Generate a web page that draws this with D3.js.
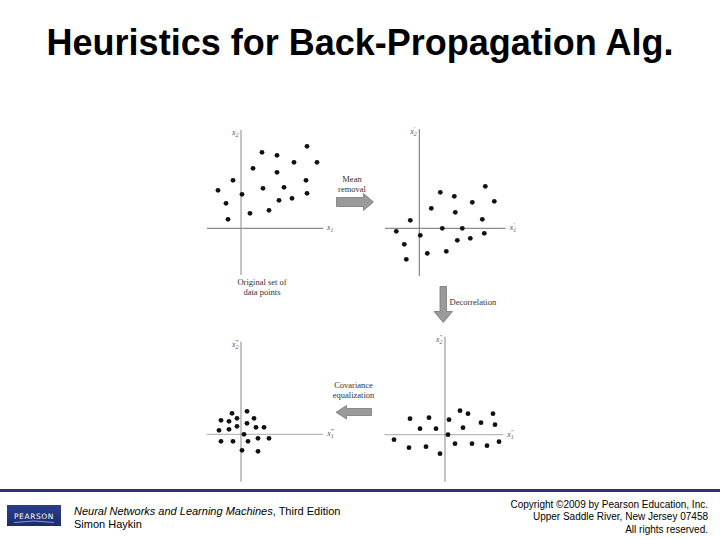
<!DOCTYPE html>
<html><head><meta charset="utf-8">
<script src="https://cdn.jsdelivr.net/npm/d3@7"></script>
<style>
html,body{margin:0;padding:0;background:#fff;}
svg{display:block;}
</style></head>
<body>
<svg id="c" width="720" height="540"></svg>
<script>
// ---- data ----
const titleText = "Heuristics for Back-Propagation Alg.";
const original = [[6.6,8.2],[2.1,7.6],[3.6,7.3],[5.3,6.6],[7.6,6.6],[1.2,6.0],[3.6,5.6],[-0.8,4.8],[6.5,4.8],[-2.3,3.8],[2.2,4.0],[4.3,4.1],[0.1,3.4],[6.6,3.5],[-1.5,2.5],[3.8,2.8],[5.1,3.0],[0.9,1.5],[2.8,1.8],[-1.3,0.9]];
const meanRemoved = [[6.6,4.2],[2.1,3.6],[3.5,3.2],[5.3,2.6],[7.5,2.7],[1.2,2.0],[3.6,1.6],[-0.9,0.8],[6.3,0.9],[-2.3,-0.3],[2.3,0.0],[4.3,0.0],[0.1,-0.7],[6.5,-0.5],[-1.5,-1.6],[3.8,-1.2],[5.1,-1.0],[0.8,-2.5],[2.7,-2.3],[-1.3,-3.1]];
const decorrelated = [[1.5,2.4],[-1.6,1.7],[-3.5,1.6],[2.3,2.1],[4.8,2.1],[0.4,1.5],[3.6,1.2],[5.0,1.0],[-2.5,0.6],[-0.9,0.6],[1.8,0.7],[0.3,0.0],[-5.1,-0.5],[1.0,-0.9],[2.7,-0.9],[4.2,-1.1],[5.4,-0.7],[-3.6,-1.3],[-1.9,-1.2],[-0.5,-1.9]];
const equalized = [[0.6,2.3],[-0.9,2.1],[-0.4,1.6],[-2.0,1.4],[-1.2,1.3],[1.3,1.6],[0.6,1.1],[-0.4,0.8],[1.5,0.7],[2.3,0.7],[-2.2,0.4],[-1.2,0.5],[0.3,0.0],[-2.0,-0.7],[-0.8,-0.7],[0.7,-0.7],[1.7,-0.4],[2.8,-0.4],[0.1,-1.6],[1.7,-1.7]];
const primes = ["", "\u2032", "\u2033", "\u2034"];
const stepLabels = [["Mean","removal"],["Decorrelation"],["Covariance","equalization"]];
const captionLines = ["Original set of","data points"];
const footerLeft = ["Neural Networks and Learning Machines", ", Third Edition", "Simon Haykin"];
const footerRight = ["Copyright \u00a92009 by Pearson Education, Inc.","Upper Saddle River, New Jersey 07458","All rights reserved."];

// ---- layout ----
const svg = d3.select("#c");
svg.append("text").attr("x",360).attr("y",55).attr("text-anchor","middle")
  .attr("font-family","Liberation Sans, Arial, sans-serif").attr("font-weight","bold")
  .attr("font-size",36).attr("fill","#000").text(titleText);

const panels = [
  {pts: original,     xr:[207,323], yr:[275,130], xd:[-3.4,8.2],  yd:[-4.67,9.83], p:0},
  {pts: meanRemoved,  xr:[385,505.7], yr:[276,129.3], xd:[-3.43,8.64], yd:[-4.77,9.9], p:1},
  {pts: decorrelated, xr:[384.3,503.3], yr:[481.7,336.7], xd:[-6.07,5.83], yd:[-4.7,9.8], p:2},
  {pts: equalized,    xr:[206.7,323.3], yr:[481.7,341.7], xd:[-3.43,8.23], yd:[-4.74,9.26], p:3}
];
const serif = "Liberation Serif, Times New Roman, serif";
panels.forEach(P => {
  const x = d3.scaleLinear().domain(P.xd).range(P.xr);
  const y = d3.scaleLinear().domain(P.yd).range(P.yr);
  const g = svg.append("g");
  g.append("line").attr("x1",x(P.xd[0])).attr("x2",x(P.xd[1])).attr("y1",y(0)).attr("y2",y(0))
    .attr("stroke", P.p>=2 ? "#a8a8a8" : "#707070").attr("stroke-width",1);
  g.append("line").attr("x1",x(0)).attr("x2",x(0)).attr("y1",y(P.yd[0])).attr("y2",y(P.yd[1]))
    .attr("stroke", P.p==1 ? "#707070" : "#888").attr("stroke-width",1);
  g.selectAll("circle").data(P.pts).join("circle")
    .attr("cx",d=>x(d[0])).attr("cy",d=>y(d[1])).attr("r",2.4).attr("fill","#111");
  // axis labels
  const pr = primes[P.p];
  const t2 = g.append("text").attr("x",x(0)-9).attr("y",y(P.yd[1])+5)
    .attr("font-family",serif).attr("font-style","italic").attr("font-size",8).attr("fill","#555");
  t2.append("tspan").text("x");
  t2.append("tspan").attr("font-size",6).attr("dy",2).text("2");
  if (pr) t2.append("tspan").attr("font-size",6).attr("dy",-5).attr("dx",-3).text(pr);
  const t1 = g.append("text").attr("x",x(P.xd[1])+4).attr("y",y(0)+2)
    .attr("font-family",serif).attr("font-style","italic").attr("font-size",8).attr("fill","#555");
  t1.append("tspan").text("x");
  t1.append("tspan").attr("font-size",6).attr("dy",2).text("1");
  if (pr) t1.append("tspan").attr("font-size",6).attr("dy",-5).attr("dx",-3).text(pr);
});

// caption
captionLines.forEach((s,i)=>svg.append("text").attr("x",262).attr("y",285+i*9.5)
  .attr("text-anchor","middle").attr("font-family",serif).attr("font-size",8.5).attr("fill","#333").text(s));

// arrows
const arrowStyle = sel => sel.attr("fill","#9a9a9a").attr("stroke","#777").attr("stroke-width",0.8);
arrowStyle(svg.append("path").attr("d","M336.5,197.5 L363.5,197.5 L363.5,193.5 L373.5,202 L363.5,210.5 L363.5,206.5 L336.5,206.5 Z"));
arrowStyle(svg.append("path").attr("d","M440,286.5 L446.5,286.5 L446.5,311.5 L452.5,311.5 L443.3,322.5 L434,311.5 L440,311.5 Z"));
arrowStyle(svg.append("path").attr("d","M371.5,408.5 L346.5,408.5 L346.5,405.5 L336,412.3 L346.5,419 L346.5,415.5 L371.5,415.5 Z"));

const stepText = (lines,x,y,anchor) => lines.forEach((s,i)=>svg.append("text").attr("x",x).attr("y",y+i*10)
  .attr("text-anchor",anchor).attr("font-family",serif).attr("font-size",8.5).attr("fill","#333").text(s));
stepText(stepLabels[0],352,182,"middle");
stepText(stepLabels[1],449.5,305,"start");
stepText(stepLabels[2],353.5,388,"middle");

// footer
svg.append("rect").attr("x",0).attr("y",489).attr("width",720).attr("height",3).attr("fill","#2f2f7c");
const defs = svg.append("defs");
const gr = defs.append("linearGradient").attr("id","pg").attr("x1",0).attr("y1",0).attr("x2",0).attr("y2",1);
gr.append("stop").attr("offset","0%").attr("stop-color","#2a3f8a");
gr.append("stop").attr("offset","100%").attr("stop-color","#1c2c6a");
svg.append("rect").attr("x",7).attr("y",505).attr("width",54).attr("height",21).attr("fill","url(#pg)");
svg.append("text").attr("x",34).attr("y",518.5).attr("text-anchor","middle").attr("font-family","DejaVu Sans, sans-serif")
  .attr("font-size",7.5).attr("letter-spacing",0.6).attr("fill","#fff").text("PEARSON");
svg.append("path").attr("d","M14,522.5 Q34,519.5 54,522.5").attr("fill","none").attr("stroke","#9fb0e0").attr("stroke-width",0.8);

const fl = svg.append("text").attr("x",74).attr("y",515).attr("font-family","Liberation Sans, Arial, sans-serif").attr("font-size",11).attr("fill","#000");
fl.append("tspan").attr("font-style","italic").text(footerLeft[0]);
fl.append("tspan").text(footerLeft[1]);
svg.append("text").attr("x",74).attr("y",528).attr("font-family","Liberation Sans, Arial, sans-serif").attr("font-size",11).attr("fill","#000").text(footerLeft[2]);
footerRight.forEach((s,i)=>svg.append("text").attr("x",708).attr("y",508+i*12.3).attr("text-anchor","end")
  .attr("font-family","Liberation Sans, Arial, sans-serif").attr("font-size",10).attr("fill","#000").text(s));
</script>
</body></html>
